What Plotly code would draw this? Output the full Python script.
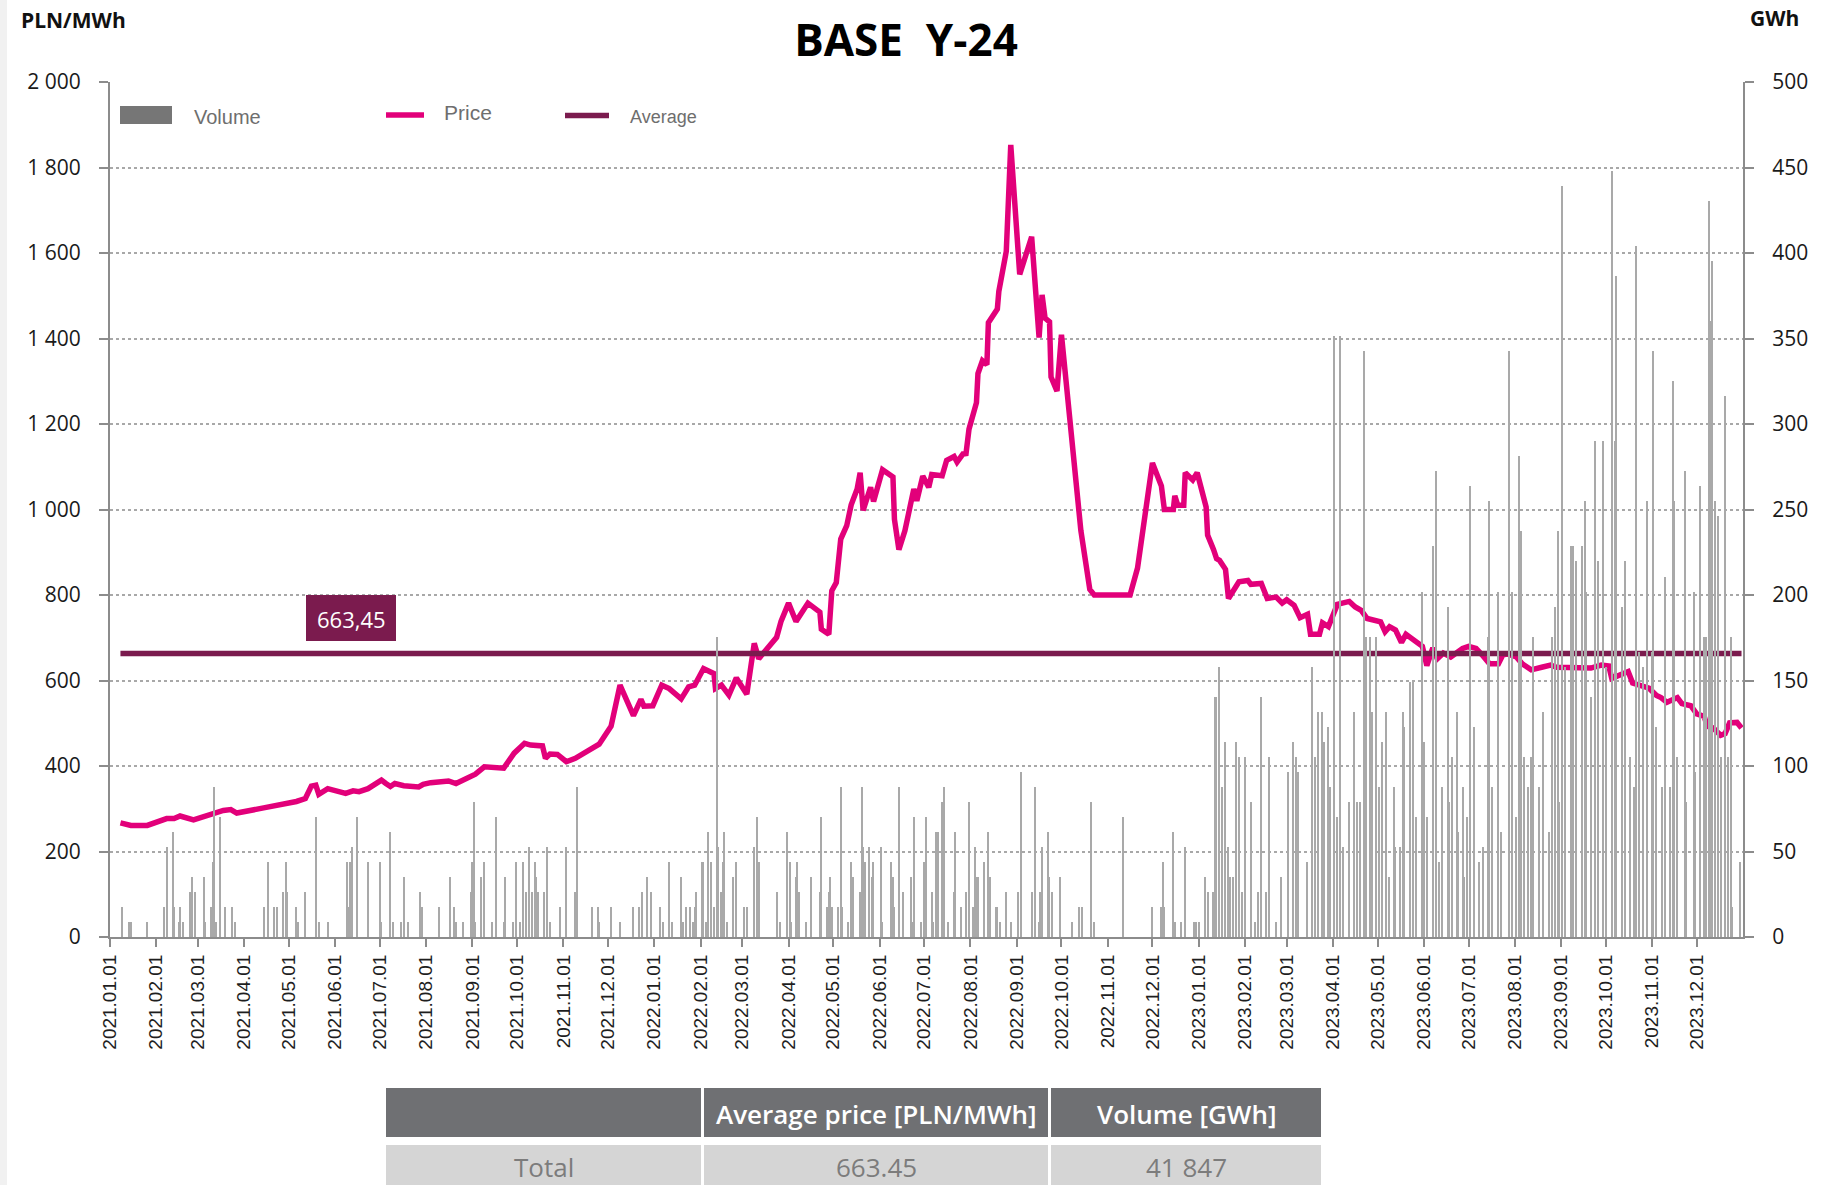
import pandas as pd
import plotly.graph_objects as go

# ---------------- DATA ----------------
price_dates_2021 = ["2021-01-08","2021-01-15","2021-01-26","2021-02-08","2021-02-13","2021-02-17","2021-02-26",
    "2021-03-04","2021-03-07","2021-03-18","2021-03-23","2021-03-27","2021-04-14","2021-04-26","2021-05-06",
    "2021-05-12","2021-05-16","2021-05-19","2021-05-21","2021-05-27","2021-06-08","2021-06-13","2021-06-17",
    "2021-06-23","2021-06-29","2021-07-02","2021-07-05","2021-07-08","2021-07-11","2021-07-17","2021-07-27",
    "2021-07-30","2021-08-04","2021-08-16","2021-08-21","2021-08-26","2021-09-03","2021-09-09","2021-09-22",
    "2021-09-29","2021-10-06","2021-10-10","2021-10-18","2021-10-20","2021-10-23","2021-10-28","2021-11-03",
    "2021-11-09","2021-11-25","2021-12-03","2021-12-09","2021-12-18","2021-12-23","2021-12-25","2021-12-31"]
price_vals_2021 = [267,261,261,277,277,283,274,280,286,296,298,290,302,309,317,324,353,355,334,347,336,342,340,
    347,359,367,359,352,359,354,351,357,361,365,359,367,381,398,395,430,453,449,447,418,428,427,410,418,451,
    493,589,518,556,540,541]

price_dates_2022 = ["2022-01-06","2022-01-11","2022-01-19","2022-01-24","2022-01-28","2022-02-03","2022-02-10",
    "2022-02-11","2022-02-15","2022-02-20","2022-02-25","2022-03-04","2022-03-09","2022-03-12","2022-03-24",
    "2022-03-27","2022-04-01","2022-04-06","2022-04-14","2022-04-22","2022-04-23","2022-04-28","2022-04-30",
    "2022-05-03","2022-05-06","2022-05-10","2022-05-13","2022-05-17","2022-05-19","2022-05-21","2022-05-26",
    "2022-05-28","2022-06-03","2022-06-10","2022-06-11","2022-06-14","2022-06-18","2022-06-24","2022-06-26",
    "2022-06-30","2022-07-04","2022-07-06","2022-07-13","2022-07-16","2022-07-21","2022-07-23","2022-07-27",
    "2022-07-29","2022-07-31","2022-08-03","2022-08-05","2022-08-06","2022-08-09","2022-08-12","2022-08-13",
    "2022-08-19","2022-08-20","2022-08-25","2022-08-28","2022-09-03","2022-09-11","2022-09-16","2022-09-18",
    "2022-09-20","2022-09-23","2022-09-24","2022-09-28","2022-10-01","2022-10-07","2022-10-11","2022-10-14",
    "2022-10-20","2022-10-23","2022-11-16","2022-11-21","2022-12-01","2022-12-07","2022-12-09","2022-12-15",
    "2022-12-16","2022-12-18","2022-12-22","2022-12-23","2022-12-28","2022-12-31"]
price_vals_2022 = [589,581,557,585,589,628,616,581,589,566,606,568,687,651,701,739,781,738,781,760,720,708,810,
    829,931,962,1011,1048,1086,998,1052,1019,1093,1076,977,906,950,1048,1020,1078,1052,1082,1079,1115,1124,
    1111,1130,1131,1188,1223,1250,1318,1348,1339,1437,1469,1510,1604,1853,1550,1638,1402,1502,1448,1439,1310,
    1277,1409,1202,1076,951,813,800,800,863,1109,1055,1000,1000,1032,1010,1010,1086,1069,1086]

price_dates_2023 = ["2023-01-06","2023-01-07","2023-01-11","2023-01-13","2023-01-15","2023-01-19","2023-01-21",
    "2023-01-24","2023-01-28","2023-02-03","2023-02-05","2023-02-12","2023-02-16","2023-02-22","2023-02-26",
    "2023-03-01","2023-03-06","2023-03-10","2023-03-15","2023-03-17","2023-03-23","2023-03-25","2023-03-29",
    "2023-04-04","2023-04-12","2023-04-16","2023-04-20","2023-04-24","2023-04-28","2023-05-03","2023-05-06",
    "2023-05-09","2023-05-13","2023-05-17","2023-05-20","2023-05-26","2023-05-31","2023-06-03","2023-06-07",
    "2023-06-10","2023-06-14","2023-06-19","2023-06-23","2023-06-27","2023-07-01","2023-07-06","2023-07-10",
    "2023-07-15","2023-07-21","2023-07-24","2023-07-27","2023-08-02","2023-08-06","2023-08-12","2023-08-19",
    "2023-08-25","2023-08-29","2023-09-08","2023-09-21","2023-09-28","2023-10-03","2023-10-05","2023-10-10",
    "2023-10-16","2023-10-19","2023-10-24","2023-10-30","2023-11-04","2023-11-07","2023-11-11","2023-11-18",
    "2023-11-21","2023-11-27","2023-12-01","2023-12-06","2023-12-08","2023-12-12","2023-12-17","2023-12-20",
    "2023-12-23","2023-12-28","2023-12-31"]
price_vals_2023 = [1006,940,906,885,881,860,792,810,831,834,825,827,792,795,781,789,776,747,755,708,708,735,726,
    778,785,772,764,745,742,737,714,726,718,689,708,693,680,635,676,651,664,655,664,675,680,675,660,639,639,
    660,662,655,639,625,631,636,631,631,629,636,634,605,613,621,594,590,582,565,560,549,560,546,541,522,516,
    493,489,472,476,501,502,489]

# volume bars: day offset from 2021-01-01 and volume in GWh
vol_days_2021 = [8,13,14,25,36,38,42,43,46,47,49,54,55,57,63,64,68,69,70,71,74,77,82,84,103,106,110,112,116,118,
    119,125,126,131,138,140,146,159,160,161,162,166,173,181,182,188,190,195,197,200,208,209,221,228,231,232,237,
    242,243,244,245,249,251,256,259,264,265,270,272,275,277,279,281,283,285,286,287,291,293,295,302,306,312,313,
    323,327,328,336,342,351,355,357,360,363]
vol_gwh_2021 = [17.6,8.8,8.8,8.8,17.6,52.7,61.5,17.6,8.8,17.6,8.8,26.4,35.1,26.4,35.1,8.8,17.6,43.9,87.8,8.8,
    70.3,17.6,17.6,8.8,17.6,43.9,17.6,17.6,26.4,43.9,26.4,17.6,8.8,26.4,70.3,8.8,8.8,43.9,17.6,43.9,52.7,70.3,
    43.9,43.9,8.8,61.5,8.8,8.8,35.1,8.8,26.4,17.6,17.6,35.1,17.6,8.8,8.8,26.4,43.9,79.1,8.8,35.1,43.9,8.8,70.3,
    8.8,35.1,8.8,43.9,8.8,43.9,26.4,52.7,26.4,43.9,35.1,26.4,26.4,52.7,8.8,17.6,52.7,26.4,87.8,17.6,17.6,8.8,
    17.6,8.8,17.6,17.6,26.4,35.1,26.4]

vol_days_2022 = [369,371,375,377,383,384,386,389,391,392,393,397,398,400,401,403,405,407,408,410,411,412,414,418,
    420,425,427,432,434,435,447,449,454,456,457,460,461,462,467,470,476,477,481,482,483,484,488,490,491,495,497,
    498,503,504,505,506,509,511,512,517,518,524,525,526,529,532,537,538,539,544,546,547,551,552,554,555,558,559,
    562,566,567,571,574,576,579,580,581,582,586,589,590,594,595,597,601,604,609,611,618,620,623,624,625,629,630,
    632,637,645,650,652,658,660,679,699,705,706,707,713,714,718,721,727,728]
vol_gwh_2022 = [17.6,8.8,43.9,8.8,35.1,8.8,17.6,17.6,8.8,17.6,26.4,43.9,43.9,8.8,61.5,43.9,17.6,175.7,52.7,26.4,
    43.9,61.5,8.8,35.1,43.9,17.6,17.6,52.7,70.3,43.9,26.4,8.8,61.5,43.9,8.8,35.1,43.9,26.4,8.8,35.1,26.4,70.3,
    17.6,26.4,35.1,17.6,17.6,87.8,17.6,8.8,43.9,35.1,26.4,87.8,52.7,43.9,52.7,35.1,43.9,52.7,8.8,43.9,35.1,17.6,
    87.8,26.4,35.1,8.8,70.3,8.8,43.9,70.3,26.4,8.8,61.5,61.5,79.1,87.8,8.8,26.4,61.5,17.6,26.4,79.1,17.6,52.7,
    35.1,35.1,43.9,61.5,35.1,17.6,17.6,8.8,26.4,8.8,26.4,96.6,26.4,87.8,8.8,26.4,52.7,61.5,35.1,26.4,35.1,8.8,
    17.6,17.6,79.1,8.8,70.3,17.6,17.6,43.9,17.6,61.5,8.8,8.8,52.7,8.8,8.8]

vol_days_2023 = [730,734,736,740,741,742,744,746,748,750,751,753,755,757,759,761,765,768,770,772,775,777,782,785,
    790,793,795,797,803,806,808,810,813,814,817,818,821,823,825,827,831,834,836,838,841,842,845,846,849,851,853,
    856,858,861,862,865,867,868,872,874,876,880,881,883,887,889,891,893,897,898,900,903,904,907,908,910,912,915,
    918,921,924,925,927,931,933,938,940,943,945,946,948,951,953,954,958,961,965,967,969,971,972,974,976,980,981,
    983,987,989,990,993,996,998,1001,1003,1007,1009,1010,1014,1016,1019,1022,1023,1025,1028,1031,1034,1035,1037,
    1041,1043,1046,1048,1049,1051,1056,1057,1062,1063,1066,1069,1070,1072,1073,1074,1076,1078,1080,1083,1085,
    1087,1088,1093]
vol_gwh_2023 = [8.8,35.1,26.4,26.4,140.5,140.5,158.1,87.8,114.2,52.7,35.1,35.1,114.2,105.4,26.4,105.4,79.1,8.8,
    26.4,140.5,26.4,105.4,8.8,35.1,96.6,114.2,105.4,96.6,43.9,158.1,105.4,131.8,131.8,114.2,123.0,87.8,351.4,
    70.3,351.4,52.7,79.1,131.8,79.1,79.1,342.6,175.7,175.7,131.8,175.7,87.8,114.2,131.8,35.1,87.8,52.7,52.7,
    131.8,123.0,149.3,149.3,70.3,202.0,114.2,70.3,228.4,272.3,43.9,87.8,193.2,79.1,105.4,131.8,61.5,87.8,35.1,
    70.3,263.5,123.0,43.9,52.7,175.7,254.7,87.8,202.0,61.5,342.6,202.0,70.3,281.1,237.2,105.4,87.8,105.4,175.7,
    87.8,131.8,61.5,175.7,193.2,237.2,79.1,439.2,158.1,228.4,228.4,219.6,228.4,254.7,202.0,140.5,289.9,219.6,
    289.9,158.1,448.0,289.9,386.5,193.2,219.6,105.4,87.8,404.1,166.9,158.1,254.7,166.9,342.6,123.0,87.8,210.8,
    87.8,325.0,254.7,105.4,272.3,79.1,202.0,96.6,263.5,175.7,175.7,430.4,360.1,395.3,254.7,246.0,105.4,316.2,
    105.4,175.7,17.6,43.9]

average_price = 663.45
average_label = "663,45"
table_header = ["", "Average price [PLN/MWh]", "Volume [GWh]"]
table_row = ["Total", "663.45", "41 847"]

# ---------------- BUILD ----------------
price_dates = price_dates_2021 + price_dates_2022 + price_dates_2023
price_vals = price_vals_2021 + price_vals_2022 + price_vals_2023
vol_days = vol_days_2021 + vol_days_2022 + vol_days_2023
vol_gwh = vol_gwh_2021 + vol_gwh_2022 + vol_gwh_2023
vol_dates = pd.Timestamp("2021-01-01") + pd.to_timedelta(vol_days, unit="D")

PINK = "#e2007a"
PLUM = "#7b1b4e"
GRID = "#a8a8a8"
AXIS = "#8c8c8c"

W, H = 1833, 1185
L, R, T, B = 110, 90, 82, 248
PW, PH = W - L - R, H - T - B


def px(x):
    return (x - L) / PW


def py(y):
    return (H - B - y) / PH


fig = go.Figure()
fig.add_trace(go.Bar(x=vol_dates, y=vol_gwh, yaxis="y2", marker=dict(color="#a9a9a9", line=dict(width=0)),
                     width=0.8 * 86400000, showlegend=False, hoverinfo="skip"))
fig.add_trace(go.Scatter(x=price_dates, y=price_vals, mode="lines", line=dict(color=PINK, width=5.5),
                         showlegend=False))
fig.add_trace(go.Scatter(x=[price_dates[0], price_dates[-1]], y=[average_price, average_price], mode="lines",
                         line=dict(color=PLUM, width=5.5), showlegend=False))

month_ticks = pd.date_range("2021-01-01", "2023-12-01", freq="MS")

shapes = []
annotations = []

# left light strip
shapes.append(dict(type="rect", xref="paper", yref="paper", x0=px(0), x1=px(7), y0=py(H), y1=py(0),
                   fillcolor="#f1f1f1", line=dict(width=0), layer="below"))

# legend
shapes.append(dict(type="rect", xref="paper", yref="paper", x0=px(120), x1=px(172), y0=py(124), y1=py(106),
                   fillcolor="#767676", line=dict(width=0)))
shapes.append(dict(type="line", xref="paper", yref="paper", x0=px(386), x1=px(424), y0=py(115), y1=py(115),
                   line=dict(color=PINK, width=5.5)))
shapes.append(dict(type="line", xref="paper", yref="paper", x0=px(565), x1=px(609), y0=py(115.5), y1=py(115.5),
                   line=dict(color=PLUM, width=5.5)))
legend_font = "Liberation Sans, Arial, sans-serif"
annotations.append(dict(text="Volume", xref="paper", yref="paper", x=px(192), y=py(117), xanchor="left",
                        yanchor="middle", showarrow=False, font=dict(family=legend_font, size=20, color="#6e6e6e")))
annotations.append(dict(text="Price", xref="paper", yref="paper", x=px(442), y=py(113), xanchor="left",
                        yanchor="middle", showarrow=False, font=dict(family=legend_font, size=21, color="#6e6e6e")))
annotations.append(dict(text="Average", xref="paper", yref="paper", x=px(628), y=py(117), xanchor="left",
                        yanchor="middle", showarrow=False, font=dict(family=legend_font, size=18, color="#6e6e6e")))

# average label box
shapes.append(dict(type="rect", xref="paper", yref="paper", x0=px(306), x1=px(396), y0=py(641), y1=py(595),
                   fillcolor=PLUM, line=dict(width=0)))
annotations.append(dict(text=average_label, xref="paper", yref="paper", x=px(351), y=py(619), xanchor="center",
                        yanchor="middle", showarrow=False, font=dict(family="Open Sans", size=22, color="white")))

# axis unit labels
annotations.append(dict(text="<b>PLN/MWh</b>", xref="paper", yref="paper", x=px(19), y=py(20), xanchor="left",
                        yanchor="middle", showarrow=False, font=dict(family="Open Sans", size=21, color="#111")))
annotations.append(dict(text="<b>GWh</b>", xref="paper", yref="paper", x=px(1748), y=py(18), xanchor="left",
                        yanchor="middle", showarrow=False, font=dict(family="Open Sans", size=21, color="#111")))

# table
cols = [(386, 701), (704, 1048), (1051, 1321)]
for i, (a, b) in enumerate(cols):
    shapes.append(dict(type="rect", xref="paper", yref="paper", x0=px(a), x1=px(b), y0=py(1137), y1=py(1088),
                       fillcolor="#6f7073", line=dict(width=0)))
    shapes.append(dict(type="rect", xref="paper", yref="paper", x0=px(a), x1=px(b), y0=py(1200), y1=py(1145),
                       fillcolor="#d5d5d5", line=dict(width=0)))
    cx = (a + b) / 2
    if table_header[i]:
        annotations.append(dict(text=table_header[i], xref="paper", yref="paper", x=px(cx), y=py(1114),
                                xanchor="center", yanchor="middle", showarrow=False,
                                font=dict(family="Open Sans", size=26, color="white", weight=600)))
    annotations.append(dict(text=table_row[i], xref="paper", yref="paper", x=px(cx), y=py(1167),
                            xanchor="center", yanchor="middle", showarrow=False,
                            font=dict(family="Open Sans", size=26, color="#7c7c7c")))

fig.update_layout(
    width=W, height=H,
    margin=dict(l=L, r=R, t=T, b=B, pad=0),
    paper_bgcolor="white", plot_bgcolor="white",
    separators=", ",
    title=dict(text="<b>BASE  Y-24</b>", x=906 / W, y=1 - 41 / H, xanchor="center", yanchor="middle",
               xref="container", yref="container",
               font=dict(family="Open Sans", size=44, color="#000")),
    xaxis=dict(type="date", range=["2021-01-01", "2024-01-01"], tickvals=month_ticks, tickformat="%Y.%m.%d",
               tickangle=-90, ticks="outside", ticklen=8, tickwidth=1.5, tickcolor=AXIS, showline=True,
               linecolor=AXIS, linewidth=2, showgrid=False, zeroline=False,
               tickfont=dict(family="Liberation Sans, Arial, sans-serif", size=19, color="#1e1e1e")),
    yaxis=dict(range=[0, 2000], dtick=200, tickformat=",d", showgrid=True, gridcolor=GRID, griddash="dot",
               gridwidth=1.5, showline=True, linecolor=AXIS, linewidth=2, ticks="outside", ticklen=9,
               tickwidth=1.5, tickcolor=AXIS, zeroline=False, ticklabelstandoff=14,
               tickfont=dict(family="Open Sans", size=21, color="#1a1a1a")),
    yaxis2=dict(range=[0, 500], dtick=50, overlaying="y", side="right", showgrid=False, showline=True,
                linecolor=AXIS, linewidth=2, ticks="outside", ticklen=9, tickwidth=1.5, tickcolor=AXIS,
                zeroline=False, ticklabelstandoff=14,
                tickfont=dict(family="Open Sans", size=21, color="#1a1a1a")),
    shapes=shapes,
    annotations=annotations,
    showlegend=False,
    bargap=0,
)

fig.write_html("out.html", config={"displayModeBar": False},
               post_script="document.body.style.margin='0';")
